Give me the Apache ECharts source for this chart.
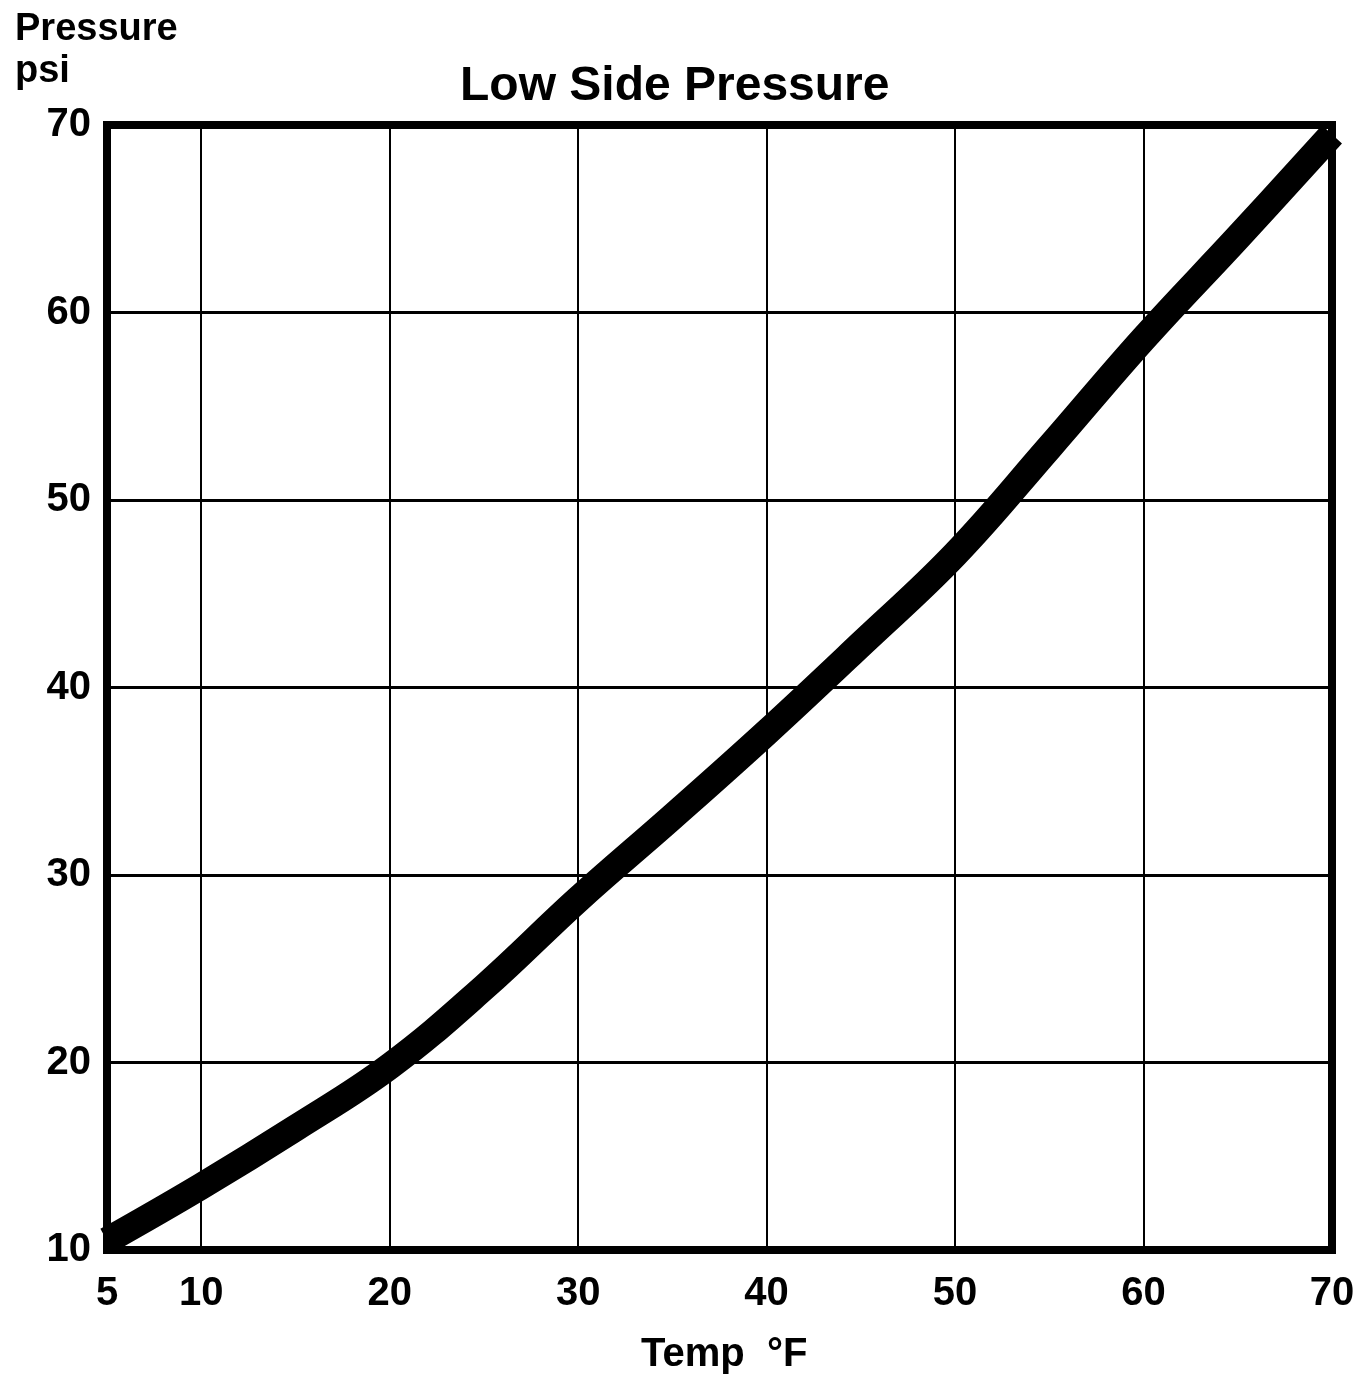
<!DOCTYPE html>
<html>
<head>
<meta charset="utf-8">
<script src="https://cdn.jsdelivr.net/npm/echarts@6/dist/echarts.min.js"></script>
<style>html,body{margin:0;padding:0;background:#fff}#c{width:1372px;height:1378px}</style>
</head>
<body>
<div id="c"></div>
<script>
// Data
var tempF = [5, 10, 15, 20, 25, 30, 35, 40, 45, 50, 55, 60, 65, 70];
var pressurePsi = [10.5, 13.4, 16.5, 19.8, 24.0, 28.7, 33.1, 37.6, 42.3, 47.1, 52.8, 58.6, 64.0, 69.5];
var xTickLabels = [5, 10, 20, 30, 40, 50, 60, 70];
var yTickLabels = [10, 20, 30, 40, 50, 60, 70];
var verticalGrid = [10, 20, 30, 40, 50, 60];

var FONT = 'Liberation Sans';
var chart = echarts.init(document.getElementById('c'), null, {renderer: 'canvas'});

var points = tempF.map(function (t, i) { return [t, pressurePsi[i]]; });

chart.setOption({
  animation: false,
  backgroundColor: '#fff',
  title: [
    {
      text: 'Low Side Pressure',
      left: 455, top: 58,
      textStyle: {fontFamily: FONT, fontWeight: 'bold', fontSize: 48, color: '#000'}
    },
    {
      text: 'Pressure\npsi',
      left: 10, top: 4,
      textStyle: {fontFamily: FONT, fontWeight: 'bold', fontSize: 38, lineHeight: 42, color: '#000'}
    },
    {
      text: 'Temp  \u00B0F',
      left: 636, top: 1330,
      textStyle: {fontFamily: FONT, fontWeight: 'bold', fontSize: 40, color: '#000'}
    }
  ],
  grid: {
    left: 107, right: 40, top: 125, bottom: 128,
    show: true, borderColor: '#000', borderWidth: 8, backgroundColor: '#fff'
  },
  xAxis: {
    type: 'value', min: 5, max: 70, interval: 5,
    axisLine: {show: false}, axisTick: {show: false}, splitLine: {show: false},
    axisLabel: {
      margin: 24, color: '#000', fontFamily: FONT, fontWeight: 'bold', fontSize: 40,
      formatter: function (v) { return xTickLabels.indexOf(v) >= 0 ? String(v) : ''; }
    }
  },
  yAxis: {
    type: 'value', min: 10, max: 70, interval: 10,
    axisLine: {show: false}, axisTick: {show: false},
    splitLine: {show: true, lineStyle: {color: '#000', width: 3, type: 'solid'}},
    axisLabel: {
      margin: 16, color: '#000', fontFamily: FONT, fontWeight: 'bold', fontSize: 40,
      formatter: function (v) { return yTickLabels.indexOf(v) >= 0 ? String(v) : ''; }
    }
  },
  series: [
    {
      type: 'line',
      data: points,
      smooth: 0.4,
      symbol: 'none',
      clip: true,
      lineStyle: {color: '#000', width: 27, cap: 'butt', join: 'round'},
      markLine: {
        silent: true,
        symbol: ['none', 'none'],
        label: {show: false},
        lineStyle: {color: '#000', width: 2, type: 'solid'},
        data: verticalGrid.map(function (v) { return {xAxis: v}; }),
        z: 1
      },
      z: 3
    }
  ]
});
</script>
</body>
</html>
